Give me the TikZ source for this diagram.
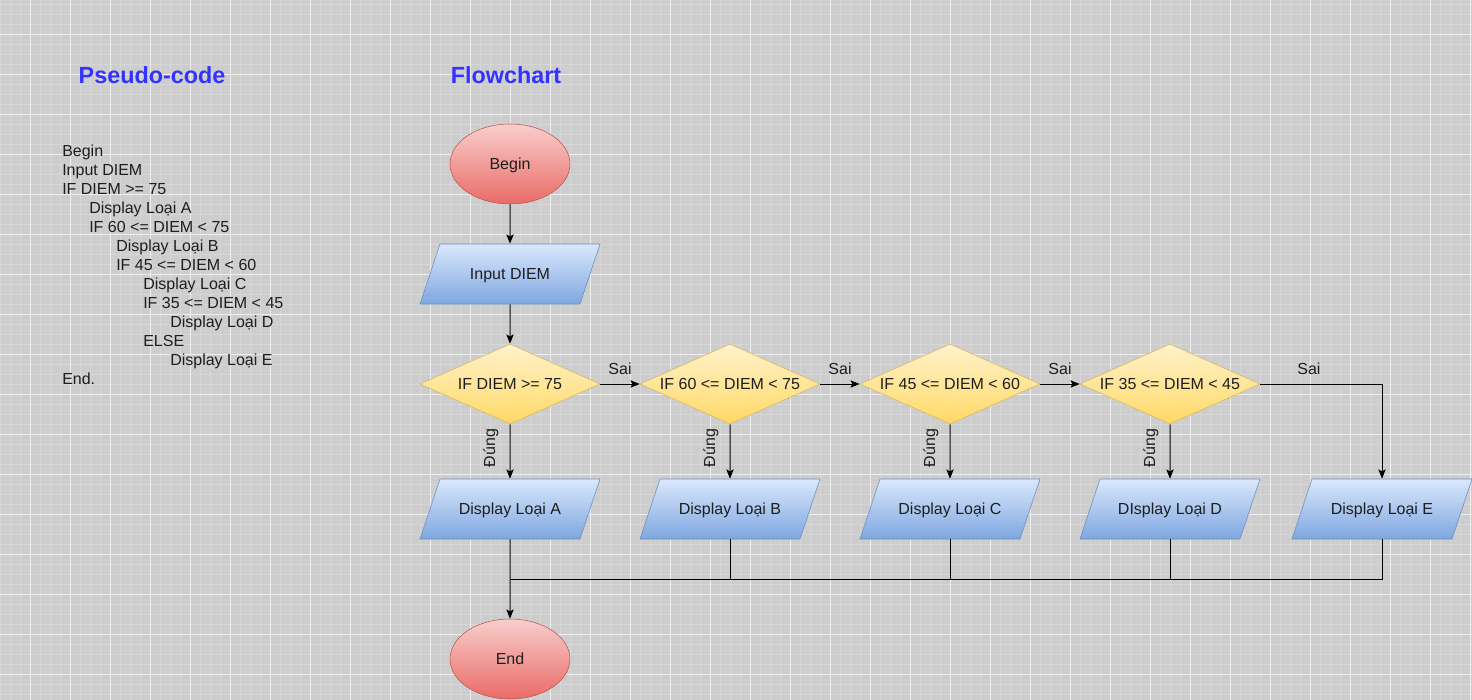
\documentclass[tikz,border=0pt]{standalone}
\usepackage{fontspec}
\setmainfont{Liberation Sans}
\usepackage{tikz}
\usetikzlibrary{shapes}
\usetikzlibrary{positioning}
\usetikzlibrary{calc}
\usetikzlibrary{arrows.meta}

\definecolor{gridbg}{RGB}{205,205,205}
\definecolor{gridminor}{RGB}{214,214,214}
\definecolor{gridmajor}{RGB}{238,238,238}
\definecolor{titleblue}{RGB}{51,51,255}
\definecolor{inktext}{RGB}{30,30,30}
\definecolor{redtop}{HTML}{F8CECC}
\definecolor{redbot}{HTML}{EA6B66}
\definecolor{redline}{HTML}{B85450}
\definecolor{bluetop}{HTML}{DAE8FC}
\definecolor{bluebot}{HTML}{7EA6E0}
\definecolor{blueline}{HTML}{6C8EBF}
\definecolor{yellowtop}{HTML}{FFF2CC}
\definecolor{yellowbot}{HTML}{FFD966}
\definecolor{yellowline}{HTML}{D6B656}

\begin{document}
\begin{tikzpicture}[
    x=0.75pt, y=-0.75pt,
    >={Stealth[length=7pt, width=5.5pt, inset=1.5pt]},
    every node/.style={font=\fontsize{12}{14}\selectfont, text=inktext},
    heading/.style={font=\fontsize{17.5}{20}\selectfont\bfseries, text=titleblue},
    codeline/.style={anchor=base west, inner sep=0pt},
    capsbox/.style={text height=8.6pt, text depth=0pt},
    truelabel/.style={midway, xshift=-14.25pt, yshift=2.6pt, rotate=90},
    terminal/.style={capsbox, ellipse, draw=redline, top color=redtop, bottom color=redbot, minimum width=90pt, minimum height=60pt, inner sep=0pt},
    io/.style={capsbox, trapezium, trapezium left angle=71.57, trapezium right angle=108.43, trapezium stretches body, draw=blueline, top color=bluetop, bottom color=bluebot, minimum width=135pt, inner xsep=0pt, inner ysep=18.2pt},
    decision/.style={capsbox, diamond, aspect=2.25, draw=yellowline, top color=yellowtop, bottom color=yellowbot, minimum width=135pt, minimum height=60pt, inner sep=0pt},
    flow/.style={line width=0.75pt, black}
]
\useasboundingbox (0,0) rectangle (1472,700);
\fill[gridbg] (0,0) rectangle (1472,700);
\foreach \x in {0,10,...,1470} \draw[gridminor, line width=0.75pt] (\x,0) -- (\x,700);
\foreach \y in {4,14,...,700} \draw[gridminor, line width=0.75pt] (0,\y) -- (1472,\y);
\foreach \x in {30,70,...,1470} \draw[gridmajor, line width=0.75pt] (\x,0) -- (\x,700);
\foreach \y in {34,74,...,700} \draw[gridmajor, line width=0.75pt] (0,\y) -- (1472,\y);

\node[heading] (pseudotitle) at (152,75) {Pseudo-code};
\node[heading] (flowtitle) at (506,75) {Flowchart};

\foreach \lvl/\txt [count=\i] in {0/Begin, 0/Input DIEM, 0/IF DIEM >= 75, 1/Display Loại A, 1/IF 60 <= DIEM < 75, 2/Display Loại B, 2/IF 45 <= DIEM < 60, 3/Display Loại C, 3/IF 35 <= DIEM < 45, 4/Display Loại D, 3/ELSE, 4/Display Loại E, 0/End.}
    \node[codeline] (code\i) at ({62+27*\lvl}, {156+19*(\i-1)}) {\txt};

\node[terminal] (start) at (510,164) {Begin};
\node[io] (input) at (510,274) {Input DIEM};
\node[decision] (ifA) at (510,384) {IF DIEM >= 75};
\node[decision] (ifB) at (730,384) {IF 60 <= DIEM < 75};
\node[decision] (ifC) at (950,384) {IF 45 <= DIEM < 60};
\node[decision] (ifD) at (1170,384) {IF 35 <= DIEM < 45};
\node[io] (showA) at (510,509) {Display Loại A};
\node[io] (showB) at (730,509) {Display Loại B};
\node[io] (showC) at (950,509) {Display Loại C};
\node[io] (showD) at (1170,509) {DIsplay Loại D};
\node[io] (showE) at (1382,509) {Display Loại E};
\node[terminal] (finish) at (510,659) {End};
\coordinate (join) at (510,579);

\draw[flow, ->] (start) -- (input);
\draw[flow, ->] (input) -- (ifA);
\draw[flow, ->] (ifA) -- node[above=3pt] {Sai} (ifB);
\draw[flow, ->] (ifB) -- node[above=3pt] {Sai} (ifC);
\draw[flow, ->] (ifC) -- node[above=3pt] {Sai} (ifD);
\draw[flow, ->] (ifD.east) -| node[pos=0.2, above=3pt] {Sai} (showE.north);
\draw[flow, ->] (ifA) -- node[truelabel] {Đúng} (showA);
\draw[flow, ->] (ifB) -- node[truelabel] {Đúng} (showB);
\draw[flow, ->] (ifC) -- node[truelabel] {Đúng} (showC);
\draw[flow, ->] (ifD) -- node[truelabel] {Đúng} (showD);
\draw[flow, ->] (showA) -- (finish);
\draw[flow] (showB.south) -- (showB.south |- join);
\draw[flow] (showC.south) -- (showC.south |- join);
\draw[flow] (showD.south) -- (showD.south |- join);
\draw[flow] (showE.south) |- (join);
\end{tikzpicture}
\end{document}
